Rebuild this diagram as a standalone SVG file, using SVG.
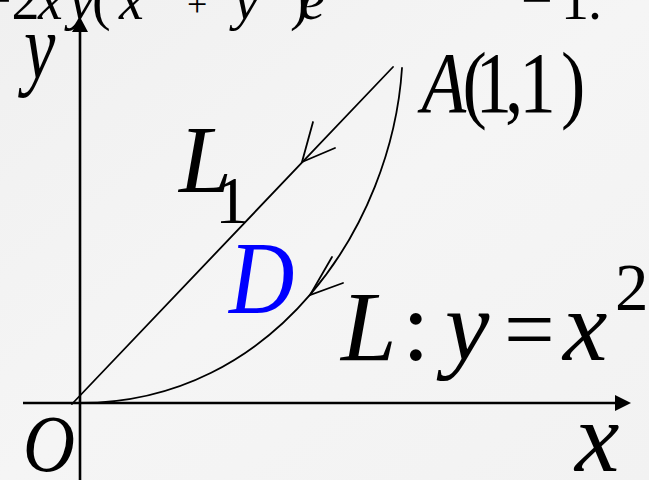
<svg xmlns="http://www.w3.org/2000/svg" width="649" height="480" viewBox="0 0 649 480">
  <defs>
    <linearGradient id="bg" x1="0" y1="0" x2="1" y2="1">
      <stop offset="0" stop-color="#f0f0f0"/>
      <stop offset="0.5" stop-color="#f5f5f5"/>
      <stop offset="1" stop-color="#f2f2f2"/>
    </linearGradient>
  </defs>
  <style>
    text { font-family: "Liberation Serif", "Times New Roman", serif; fill: #000; font-style: normal; }
    .it { font-style: italic; }
    .rm { font-style: normal; }
    .ax { stroke: #000; stroke-width: 2.6; fill: none; }
    .ln { stroke: #000; stroke-width: 1.8; fill: none; stroke-linecap: round; }
    .ah { fill: #000; stroke: none; }
    .blue { fill: #0000ff; }
  </style>
  <rect x="0" y="0" width="649" height="480" fill="url(#bg)"/>

  <g id="equation">
    <text font-size="56" y="19"><tspan x="-20">−2</tspan><tspan class="it" x="38 69">xy</tspan><tspan x="92">(</tspan><tspan class="it" x="119">x</tspan><tspan x="187" y="16" font-size="36">+</tspan><tspan class="it" x="234" y="19">y</tspan><tspan x="290">)</tspan><tspan class="it" x="300">e</tspan><tspan x="521">−</tspan><tspan x="561">1</tspan><tspan x="588">.</tspan></text>
  </g>

  <g id="axes">
    <line class="ax" x1="23" y1="403" x2="618" y2="403"/>
    <polygon class="ah" points="631,403 615,395 615,411"/>
    <line class="ax" x1="80" y1="480" x2="80" y2="30"/>
    <polygon class="ah" points="80,17 72,32 88,32"/>
  </g>

  <g id="connectors">
    <path id="L1" class="ln" d="M72,404 L393,67"/>
    <path id="L" class="ln" d="M80,403 C275,403 392,225 402,68"/>
    <path class="ln" d="M313,122 L302,162 L335,148"/>
    <path class="ln" d="M332,257 L310,295 L343,283"/>
  </g>

  <g id="label-y">
    <text class="it" font-size="94" transform="translate(24,78) scale(0.75,1)">y</text>
  </g>
  <g id="label-A">
    <text font-size="86" transform="translate(0,112) scale(0.85,1)" x="496 544 559.5 594 611 660"><tspan class="it">A</tspan>(1,1)</text>
  </g>
  <g id="label-L1">
    <text class="it" font-size="95" x="179" y="192">L<tspan class="rm" x="215" y="223" font-size="68">1</tspan></text>
  </g>
  <g id="label-D">
    <text class="it blue" font-size="104" transform="translate(229,313) scale(0.87,1)">D</text>
  </g>
  <g id="label-L">
    <text font-size="100" y="360"><tspan class="it" x="341">L</tspan><tspan x="402">:</tspan><tspan class="it" x="445">y</tspan><tspan x="504" font-size="90">=</tspan><tspan class="it" x="563">x</tspan></text>
    <text font-size="67" x="615" y="310">2</text>
  </g>
  <g id="label-O">
    <text class="it" font-size="80" transform="translate(23,471) scale(0.9,1)">O</text>
  </g>
  <g id="label-x">
    <text class="it" font-size="100" x="575" y="471">x</text>
  </g>
</svg>
